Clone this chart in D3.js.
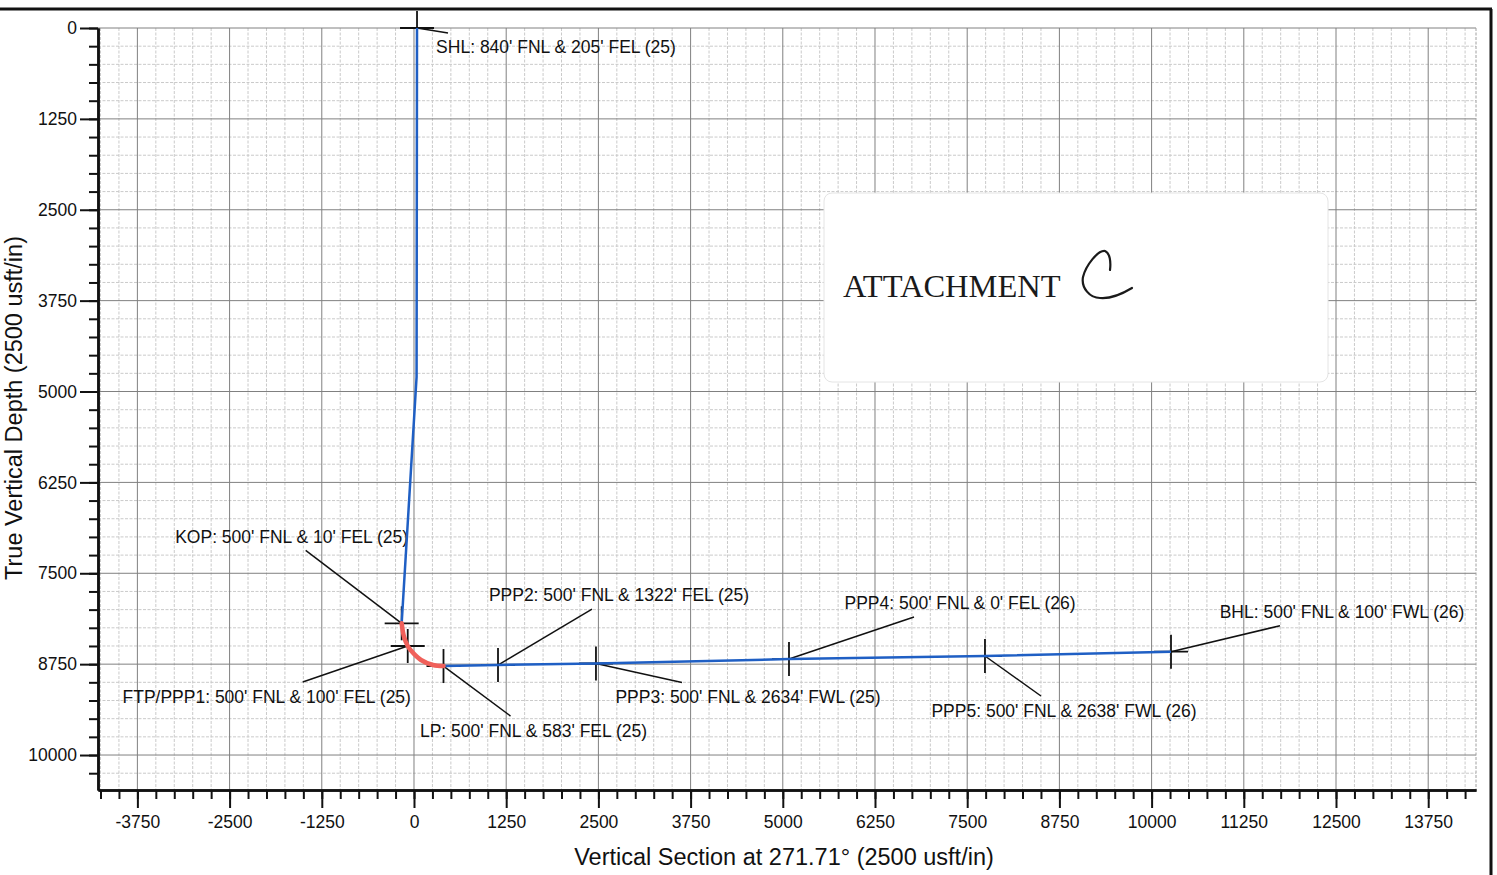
<!DOCTYPE html>
<html>
<head>
<meta charset="utf-8">
<script src="https://cdn.jsdelivr.net/npm/d3@7"></script>
<style>
  body { margin: 0; background: #fff; }
  svg { display: block; font-family: "Liberation Sans", Arial, sans-serif; }
</style>
</head>
<body>
<svg id="chart" width="1497" height="875"></svg>
<script>
// tick labels
const xTickLabels = [-3750, -2500, -1250, 0, 1250, 2500, 3750, 5000, 6250, 7500, 8750, 10000, 11250, 12500, 13750];
const yTickLabels = [0, 1250, 2500, 3750, 5000, 6250, 7500, 8750, 10000];

// well path (vertical section ft, TVD ft)
const verticalVS  = [41, 35, -167];
const verticalTVD = [0, 4800, 8188];
const buildVS  = [-167, -136, -85, -47, 95, 258, 400];
const buildTVD = [8188, 8371, 8500, 8556, 8693, 8762, 8776];
const lateralVS  = [400, 1139, 2467, 5084, 7741, 10263];
const lateralTVD = [8776, 8762, 8741, 8680, 8638, 8579];

// survey markers
const markerNames = ["SHL", "KOP", "FTP", "LP", "PPP2", "PPP3", "PPP4", "PPP5", "BHL"];
const markerVS  = [41, -167, -85, 400, 1139, 2467, 5084, 7741, 10263];
const markerTVD = [0, 8188, 8500, 8776, 8762, 8741, 8680, 8638, 8579];
const markerLabels = [
    "SHL: 840' FNL & 205' FEL (25)",
    "KOP: 500' FNL & 10' FEL (25)",
    "FTP/PPP1: 500' FNL & 100' FEL (25)",
    "LP: 500' FNL & 583' FEL (25)",
    "PPP2: 500' FNL & 1322' FEL (25)",
    "PPP3: 500' FNL & 2634' FWL (25)",
    "PPP4: 500' FNL & 0' FEL (26)",
    "PPP5: 500' FNL & 2638' FWL (26)",
    "BHL: 500' FNL & 100' FWL (26)"
];

// callout layout in px relative to marker: leader end (lx,ly), label centre (tx,ty)
const callouts = {
    SHL:  { lx: 31,   ly: 5,   tx: 139,  ty: 19 },
    KOP:  { lx: -96,  ly: -73, tx: -110, ty: -86 },
    FTP:  { lx: -105, ly: 36,  tx: -141, ty: 51 },
    LP:   { lx: 67,   ly: 50,  tx: 90,   ty: 65 },
    PPP2: { lx: 94,   ly: -56, tx: 121,  ty: -70 },
    PPP3: { lx: 86,   ly: 19,  tx: 152,  ty: 33 },
    PPP4: { lx: 125,  ly: -42, tx: 171,  ty: -56 },
    PPP5: { lx: 56,   ly: 40,  tx: 79,   ty: 55 },
    BHL:  { lx: 109,  ly: -26, tx: 171,  ty: -40 }
};

const svg = d3.select("#chart");

const x = d3.scaleLinear().domain([-4284, 14398]).range([98, 1476]);
const y = d3.scaleLinear().domain([0, 10481]).range([28, 790]);

const minorX = d3.range(-4250, 14398, 250);
const minorY = d3.range(0, 10481, 250);

// grid
const grid = svg.append("g");
grid.selectAll(".vminor")
    .data(minorX.filter(v => v % 1250 !== 0))
    .enter().append("line")
    .attr("x1", d => x(d)).attr("x2", d => x(d))
    .attr("y1", y(0)).attr("y2", y(10481))
    .attr("stroke", "#cacaca").attr("stroke-width", 1)
    .attr("stroke-dasharray", "3,1.5");
grid.selectAll(".hminor")
    .data(minorY.filter(v => v % 1250 !== 0))
    .enter().append("line")
    .attr("y1", d => y(d)).attr("y2", d => y(d))
    .attr("x1", x(-4284)).attr("x2", x(14398))
    .attr("stroke", "#cacaca").attr("stroke-width", 1)
    .attr("stroke-dasharray", "3,1.5");
grid.selectAll(".vmajor")
    .data(minorX.filter(v => v % 1250 === 0))
    .enter().append("line")
    .attr("x1", d => x(d)).attr("x2", d => x(d))
    .attr("y1", y(0)).attr("y2", y(10481))
    .attr("stroke", "#808080").attr("stroke-width", 1);
grid.selectAll(".hmajor")
    .data(minorY.filter(v => v % 1250 === 0))
    .enter().append("line")
    .attr("y1", d => y(d)).attr("y2", d => y(d))
    .attr("x1", x(-4284)).attr("x2", x(14398))
    .attr("stroke", "#808080").attr("stroke-width", 1);
// right edge of the grid
grid.append("line")
    .attr("x1", x(14398)).attr("x2", x(14398))
    .attr("y1", y(0)).attr("y2", y(10481))
    .attr("stroke", "#a0a0a0").attr("stroke-dasharray", "3,1.5");

// attachment box
svg.append("rect")
    .attr("x", 824).attr("y", 193).attr("width", 504).attr("height", 189)
    .attr("rx", 8)
    .attr("fill", "#fff").attr("stroke", "#e4e4e4");
svg.append("text")
    .attr("x", 843).attr("y", 297)
    .style("font-family", "'Liberation Serif', 'Times New Roman', serif")
    .style("font-size", "32.5px")
    .attr("fill", "#1a1a1a")
    .text("ATTACHMENT");
svg.append("path")
    .attr("d", "M1110,270 C1111,262 1110,253 1105,251 C1098,250 1086,265 1083,277 C1081,288 1090,298 1100,298 C1110,299 1122,294 1132,288")
    .attr("fill", "none").attr("stroke", "#1a1a1a").attr("stroke-width", 2.2)
    .attr("stroke-linecap", "round");

// axes
const fmt = d => String(d);
const xMinorAxis = d3.axisBottom(x).tickValues(minorX).tickSize(9).tickSizeOuter(0).tickFormat("");
const xMajorAxis = d3.axisBottom(x).tickValues(xTickLabels).tickSize(18).tickSizeOuter(0).tickPadding(8).tickFormat(fmt);
const yMinorAxis = d3.axisLeft(y).tickValues(minorY).tickSize(9).tickSizeOuter(0).tickFormat("");
const yMajorAxis = d3.axisLeft(y).tickValues(yTickLabels).tickSize(18).tickSizeOuter(0).tickPadding(3).tickFormat(fmt);

function styleAxis(g) {
    g.select(".domain").attr("stroke", "#111").attr("stroke-width", 2.5);
    g.selectAll(".tick line").attr("stroke", "#111").attr("stroke-width", 2);
    g.selectAll(".tick text").attr("fill", "#111").style("font-size", "17.5px")
        .style("font-family", "'Liberation Sans', Arial, sans-serif");
}

svg.append("g").attr("transform", "translate(0,790)").call(xMinorAxis).call(styleAxis);
svg.append("g").attr("transform", "translate(0,790)").call(xMajorAxis).call(styleAxis);
svg.append("g").attr("transform", "translate(98,0)").call(yMinorAxis).call(styleAxis);
svg.append("g").attr("transform", "translate(98,0)").call(yMajorAxis).call(styleAxis);

svg.append("text")
    .attr("x", 784).attr("y", 865)
    .attr("text-anchor", "middle")
    .style("font-size", "23.5px").attr("fill", "#111")
    .text("Vertical Section at 271.71° (2500 usft/in)");
svg.append("text")
    .attr("transform", "translate(22,408) rotate(-90)")
    .attr("text-anchor", "middle")
    .style("font-size", "23.5px").attr("fill", "#111")
    .text("True Vertical Depth (2500 usft/in)");

// markers
const markers = markerNames.map((name, i) => ({
    name, label: markerLabels[i], vs: markerVS[i], tvd: markerTVD[i]
}));

const mk = svg.append("g");
markers.forEach(d => {
    const px = x(d.vs), py = y(d.tvd);
    const c = callouts[d.name];
    // cross
    mk.append("line").attr("x1", px - 17).attr("x2", px + 17).attr("y1", py).attr("y2", py)
        .attr("stroke", "#111").attr("stroke-width", 1.8);
    mk.append("line").attr("x1", px).attr("x2", px).attr("y1", py - 17).attr("y2", py + 17)
        .attr("stroke", "#111").attr("stroke-width", 1.8);
    // leader
    mk.append("line").attr("x1", px).attr("y1", py).attr("x2", px + c.lx).attr("y2", py + c.ly)
        .attr("stroke", "#111").attr("stroke-width", 1.5);
    mk.append("text")
        .attr("x", px + c.tx).attr("y", py + c.ty)
        .attr("dy", "0.35em")
        .attr("text-anchor", "middle")
        .style("font-size", "17.5px").attr("fill", "#111")
        .text(d.label);
});

// well path
const line = d3.line().x(d => x(d[0])).y(d => y(d[1]));
const zip = (a, b) => a.map((v, i) => [v, b[i]]);

svg.append("path")
    .attr("d", line(zip(verticalVS, verticalTVD)))
    .attr("fill", "none").attr("stroke", "#1f5fc4").attr("stroke-width", 2.5);
svg.append("path")
    .attr("d", line(zip(lateralVS, lateralTVD)))
    .attr("fill", "none").attr("stroke", "#1f5fc4").attr("stroke-width", 2.5);
svg.append("path")
    .attr("d", line.curve(d3.curveCatmullRom)(zip(buildVS, buildTVD)))
    .attr("fill", "none").attr("stroke", "#f0605a").attr("stroke-width", 4.5)
    .attr("stroke-linecap", "round");

// page frame
svg.append("line").attr("x1", 0).attr("x2", 1492).attr("y1", 9).attr("y2", 9)
    .attr("stroke", "#111").attr("stroke-width", 3);
svg.append("line").attr("x1", 1491).attr("x2", 1491).attr("y1", 9).attr("y2", 875)
    .attr("stroke", "#111").attr("stroke-width", 3);
</script>
</body>
</html>
